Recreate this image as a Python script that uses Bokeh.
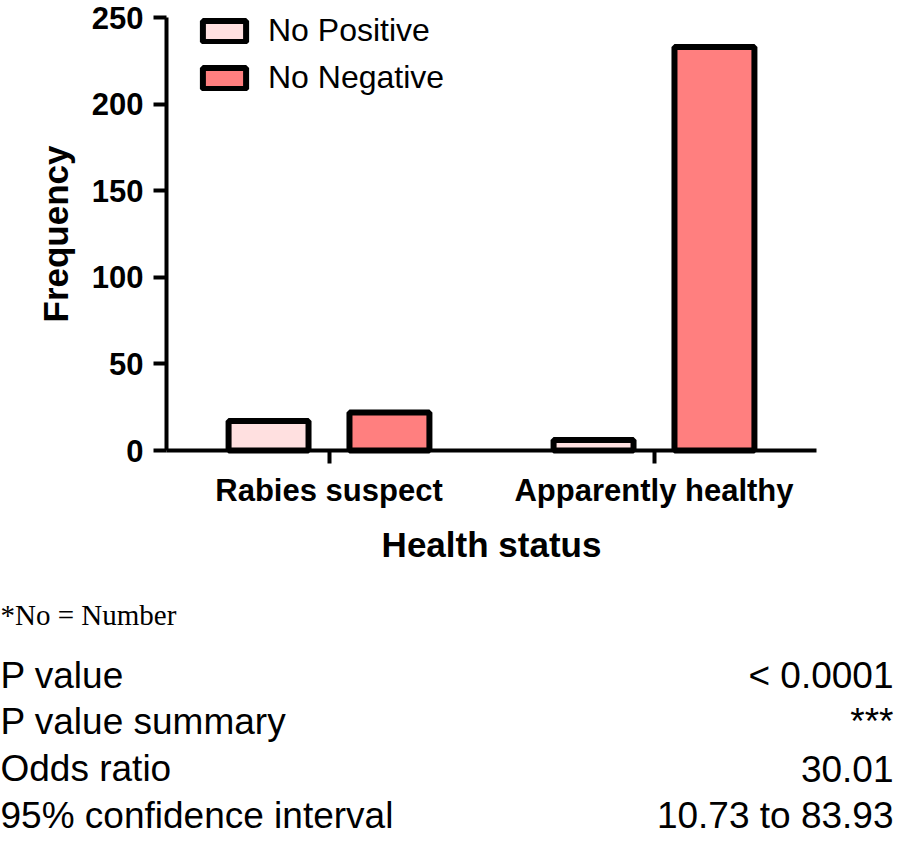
from bokeh.plotting import figure
from bokeh.models import (ColumnDataSource, Range1d, FixedTicker, Legend, LegendItem)
from bokeh.transform import dodge
from bokeh.core.properties import value
from bokeh.embed import file_html
from bokeh.resources import INLINE

# ---- data ----
categories = ["Rabies suspect", "Apparently healthy"]
series_names = ["No Positive", "No Negative"]
positive = [17, 6]
negative = [22, 233]
y_ticks = [0, 50, 100, 150, 200, 250]

footnote = "*No = Number"
stat_labels = ["P value", "P value summary", "Odds ratio", "95% confidence interval"]
stat_values = ["< 0.0001", "***", "30.01", "10.73 to 83.93"]

colors = ["#FFE0E0", "#FF7F7F"]
SANS = "Liberation Sans"

# ---- layout geometry (page pixels) ----
W, H = 898, 841
AX_LEFT, AX_RIGHT = 166, 816      # x extent of the category axis
AX_TOP, AX_BOTTOM = 17, 450       # y extent of the value axis (250 .. 0)
Y_MAX = 250
px_per_cat = (AX_RIGHT - AX_LEFT) / len(categories)
px_per_unit = (AX_BOTTOM - AX_TOP) / Y_MAX


def X(px):
    return (px - AX_LEFT) / px_per_cat


def Y(py):
    return (AX_BOTTOM - py) / px_per_unit


centers = [i + 0.5 for i in range(len(categories))]
source = ColumnDataSource(dict(xc=centers, pos=positive, neg=negative))

p = figure(x_range=Range1d(X(0), X(W)), y_range=Range1d(Y(H), Y(0)),
           width=W, height=H, output_backend="svg", toolbar_location=None,
           min_border=0)
p.outline_line_color = None
p.grid.visible = False

r_pos = p.vbar(x=dodge("xc", -0.186), top="pos", width=0.246, source=source,
               fill_color=colors[0], line_color="black", line_width=6)
r_neg = p.vbar(x=dodge("xc", 0.186), top="neg", width=0.246, source=source,
               fill_color=colors[1], line_color="black", line_width=6)

xa, ya = p.xaxis[0], p.yaxis[0]
for ax in (xa, ya):
    ax.axis_line_width = 4
    ax.major_tick_line_width = 4
    ax.major_tick_out = 13
    ax.major_tick_in = 0
    ax.minor_tick_line_color = None
    ax.major_label_text_font = SANS
    ax.major_label_text_font_style = "bold"
    ax.major_label_text_font_size = "31px"
    ax.major_label_text_color = "black"
    ax.axis_label_text_font = SANS
    ax.axis_label_text_font_style = "bold"
    ax.axis_label_text_font_size = "35px"
    ax.axis_label_text_color = "black"

ya.fixed_location = 0
ya.bounds = (0, Y_MAX)
ya.ticker = FixedTicker(ticks=y_ticks)
ya.major_label_standoff = 10
ya.axis_label = "Frequency"
ya.axis_label_standoff = 14

xa.fixed_location = 0
xa.bounds = (0, len(categories))
xa.ticker = FixedTicker(ticks=centers)
xa.major_label_overrides = {c: name for c, name in zip(centers, categories)}
xa.major_label_standoff = 9
xa.axis_label = "Health status"
xa.axis_label_standoff = 14

legend = Legend(items=[LegendItem(label=series_names[0], renderers=[r_pos]),
                       LegendItem(label=series_names[1], renderers=[r_neg])],
                location=(197, 745), orientation="vertical",
                glyph_width=54, glyph_height=26, label_height=26,
                label_standoff=17, spacing=10, padding=0, margin=0,
                border_line_color=None, background_fill_alpha=0,
                label_text_font=SANS, label_text_font_size="32px",
                label_text_color="black")
p.add_layout(legend)

# ---- footnote and statistics table below the chart ----
p.text(x=[X(0)], y=[Y(614)], text=[footnote], text_font=value("Liberation Serif"),
       text_font_size="29px", text_baseline="middle", text_align="left",
       text_color="black")
row_y = [675, 721, 768, 815]
tsrc = ColumnDataSource(dict(y=[Y(v) for v in row_y], lab=stat_labels, val=stat_values,
                             xl=[X(0)] * len(row_y), xr=[X(893)] * len(row_y)))
p.text(x="xl", y="y", text="lab", source=tsrc, text_font=value(SANS),
       text_font_size="37px", text_baseline="middle", text_align="left",
       text_color="black")
p.text(x="xr", y="y", text="val", source=tsrc, text_font=value(SANS),
       text_font_size="37px", text_baseline="middle", text_align="right",
       text_color="black")

open("out.html", "w").write(file_html(p, INLINE))
